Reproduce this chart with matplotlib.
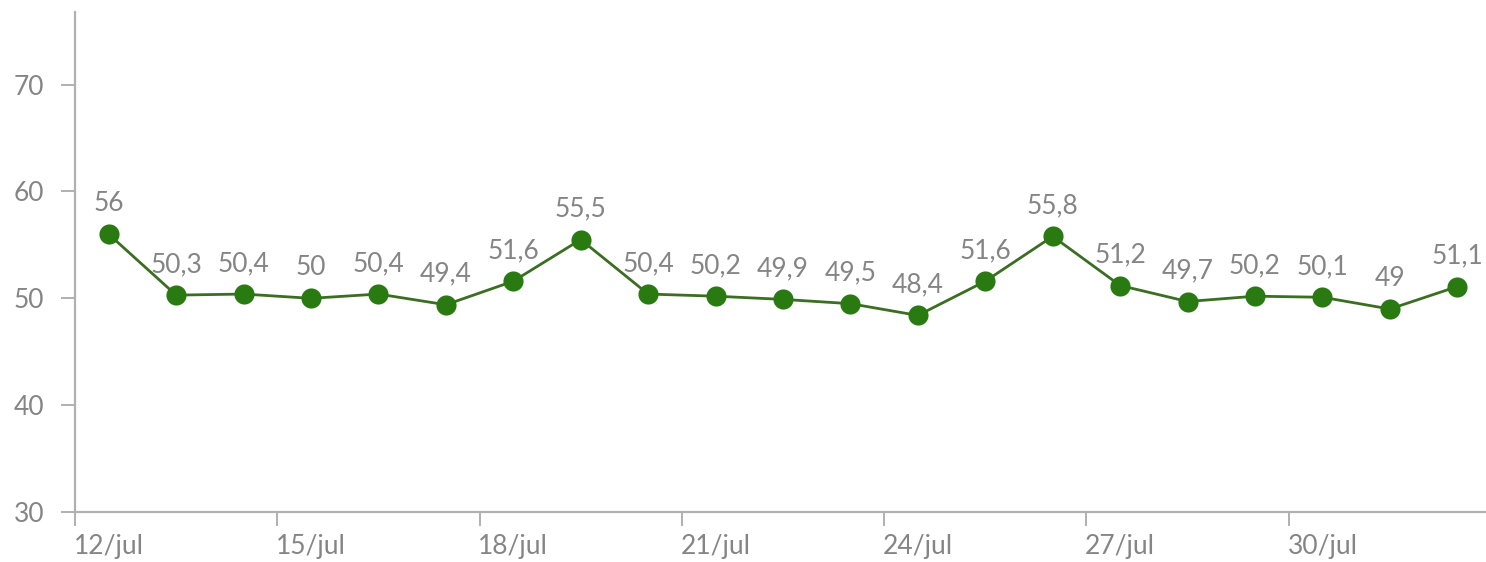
import matplotlib
matplotlib.use("Agg")
import matplotlib.pyplot as plt
from matplotlib.ticker import FixedLocator, FixedFormatter

plt.rcParams['font.family'] = ['Lato', 'DejaVu Sans']

# Daily values, 12/jul to 1/aug
days = ["12/jul", "13/jul", "14/jul", "15/jul", "16/jul", "17/jul", "18/jul",
        "19/jul", "20/jul", "21/jul", "22/jul", "23/jul", "24/jul", "25/jul",
        "26/jul", "27/jul", "28/jul", "29/jul", "30/jul", "31/jul", "01/ago"]
values = [56, 50.3, 50.4, 50, 50.4, 49.4, 51.6, 55.5, 50.4, 50.2, 49.9,
          49.5, 48.4, 51.6, 55.8, 51.2, 49.7, 50.2, 50.1, 49, 51.1]
y_ticks = [30, 40, 50, 60, 70]

gray = "#858585"
axis_gray = "#b0b0b0"
green = "#2a7a12"
line_green = "#3b6e22"

fig = plt.figure(figsize=(14.86, 5.62), dpi=100)
ax = fig.add_axes([75 / 1486, 1 - 512 / 562, (1491 - 75) / 1486, 500 / 562])

x = list(range(len(values)))
ax.plot(x, values, color=line_green, linewidth=2.0, zorder=2)
ax.plot(x, values, 'o', color=green, markersize=14.5, markeredgewidth=0, zorder=3)

for xi, v in zip(x, values):
    txt = f"{v:g}".replace(".", ",")
    ax.annotate(txt, (xi, v), xytext=(0, 13), textcoords="offset points",
                ha="center", va="bottom", fontsize=19, color=gray)

ax.set_xlim(-0.5, len(values) - 0.5)
ax.set_ylim(30, 76.8)

for side in ["top", "right"]:
    ax.spines[side].set_visible(False)
ax.spines["left"].set_color(axis_gray)
ax.spines["bottom"].set_color(axis_gray)
ax.spines["left"].set_linewidth(1.6)
ax.spines["bottom"].set_linewidth(1.6)

# labels at every third day, tick marks on category boundaries
major = x[::3]
ax.xaxis.set_major_locator(FixedLocator(major))
ax.xaxis.set_major_formatter(FixedFormatter([days[i] for i in major]))
ax.xaxis.set_minor_locator(FixedLocator([i - 0.5 for i in major]))
ax.tick_params(axis="x", which="major", length=0, pad=16, labelsize=19, labelcolor=gray)
ax.tick_params(axis="x", which="minor", length=10, width=1.4, color=axis_gray, direction="out")

ax.set_yticks(y_ticks)
ax.tick_params(axis="y", length=10, width=1.4, color=axis_gray, pad=12,
               labelsize=19, labelcolor=gray)

fig.savefig("out.png", dpi=100)
